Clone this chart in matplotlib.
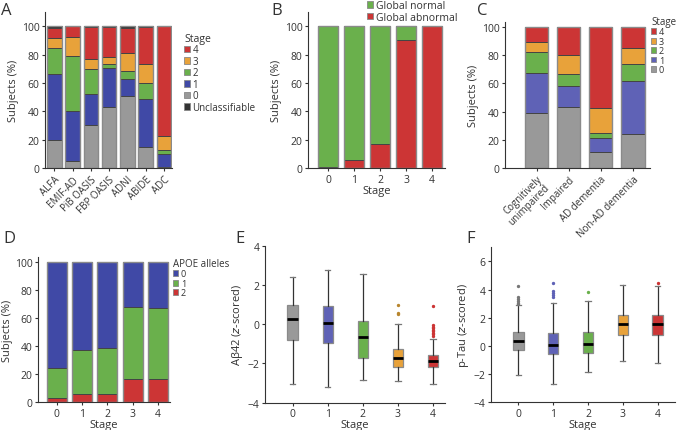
import numpy as np
import matplotlib
matplotlib.use("Agg")
import matplotlib.pyplot as plt
from matplotlib.patches import Patch

plt.rcParams["font.family"] = ["Open Sans", "DejaVu Sans"]
plt.rcParams["text.color"] = "#333333"
plt.rcParams["axes.labelcolor"] = "#333333"
plt.rcParams["xtick.color"] = "#333333"
plt.rcParams["ytick.color"] = "#333333"

# --- data -------------------------------------------------------------------
cohorts = ["ALFA", "EMIF-AD", "PiB OASIS", "FBP OASIS", "ADNI", "ABIDE", "ADC"]
a_stage0 = [19.4, 4.7, 30.0, 43.0, 50.5, 15.0, 1.0]
a_stage1 = [46.6, 35.5, 22.2, 27.5, 12.0, 33.5, 9.0]
a_stage2 = [18.4, 38.5, 17.3, 2.5, 6.0, 11.5, 3.0]
a_stage3 = [7.0, 14.0, 7.5, 5.5, 12.5, 13.5, 9.5]
a_stage4 = [7.0, 7.3, 22.2, 20.9, 17.8, 26.0, 77.5]
a_unclass = [1.6, 0.0, 0.8, 0.6, 1.2, 0.5, 0.0]

stages = ["0", "1", "2", "3", "4"]
b_abnormal = [1.0, 5.5, 17.0, 90.0, 100.0]
b_normal = [99.0, 94.5, 83.0, 10.0, 0.0]

groups = ["Cognitively\nunimpaired", "Impaired", "AD dementia", "Non-AD dementia"]
c_stage0 = [39.0, 43.3, 11.3, 24.1]
c_stage1 = [28.4, 14.9, 10.0, 37.4]
c_stage2 = [14.6, 8.5, 3.7, 12.3]
c_stage3 = [7.4, 13.7, 17.5, 11.3]
c_stage4 = [10.6, 19.6, 57.5, 14.9]

d_apoe2 = [2.6, 5.5, 6.0, 16.7, 16.2]
d_apoe1 = [21.7, 31.4, 32.8, 51.4, 51.2]
d_apoe0 = [75.7, 63.1, 61.2, 31.9, 32.6]

# box stats per stage: (whislo, q1, med, q3, whishi, fliers)
e_abeta = [(-3.03, -0.83, 0.27, 0.97, 2.38, []),
           (-3.20, -0.98, 0.05, 0.92, 2.75, []),
           (-2.83, -1.72, -0.67, 0.18, 2.55, []),
           (-2.88, -2.20, -1.73, -1.25, 0.00, [0.96, 0.58, 0.50]),
           (-3.05, -2.20, -1.87, -1.58, -0.73,
            [0.92, -0.05, -0.12, -0.2, -0.28, -0.36, -0.44, -0.52, -0.6])]
f_ptau = [(-2.04, -0.28, 0.33, 1.00, 2.87, [4.24, 3.46, 3.32, 3.2, 3.08, 2.98]),
          (-2.70, -0.57, 0.10, 0.90, 3.06, [4.5, 3.9, 3.75, 3.6, 3.45]),
          (-1.85, -0.47, 0.17, 1.00, 3.18, [3.82]),
          (-1.09, 0.76, 1.56, 2.23, 4.36, []),
          (-1.23, 0.80, 1.56, 2.23, 4.22, [4.5])]

RED, ORANGE, GREEN = "#cc3535", "#e8a23a", "#6ab04c"
BLUE, BLUE_L, GRAY, DARK = "#4049a6", "#5f62b6", "#999999", "#333333"
STAGE_COLORS = [GRAY, BLUE, GREEN, ORANGE, RED]
BOX_COLORS = [GRAY, BLUE_L, GREEN, ORANGE, RED]
FLIER_COLORS = ["#777777", BLUE_L, GREEN, "#b8862e", RED]

W, H = 677, 431
fig = plt.figure(figsize=(W / 100, H / 100), dpi=100)


def px_axes(l, t, r, b):
    ax = fig.add_axes([l / W, 1 - b / H, (r - l) / W, (b - t) / H])
    for s in ("top", "right"):
        ax.spines[s].set_visible(False)
    for s in ("left", "bottom"):
        ax.spines[s].set_color(DARK)
        ax.spines[s].set_linewidth(0.8)
    ax.tick_params(length=2.5, width=0.8, labelsize=7.5, pad=1.5)
    return ax


def stacked(ax, x, series, colors, width):
    bottom = np.zeros(len(x))
    for vals, col in zip(series, colors):
        vals = np.asarray(vals, dtype=float)
        ax.bar(x, vals, width, bottom=bottom, color=col, edgecolor="#444444",
               linewidth=0.7)
        bottom += vals
    # light outline around each full bar
    ax.bar(x, bottom, width, color="none", edgecolor="#8a8a8a", linewidth=1.0)


def legend(ax, labels, colors, x, y, title=None, fs=7):
    handles = [Patch(facecolor=c, edgecolor="#888888", linewidth=0.6) for c in colors]
    lg = ax.legend(handles, labels, title=title, loc="upper left",
                   bbox_to_anchor=(x / W, 1 - y / H), bbox_transform=fig.transFigure,
                   frameon=False, fontsize=fs, title_fontsize=fs + 0.5,
                   handlelength=0.6, handleheight=0.6, handletextpad=0.25,
                   labelspacing=0.05, borderpad=0, borderaxespad=0,
                   alignment="left")
    return lg


def boxes(ax, stats):
    bx = []
    for (lo, q1, med, q3, hi, fl) in stats:
        bx.append(dict(whislo=lo, q1=q1, med=med, q3=q3, whishi=hi, fliers=fl))
    res = ax.bxp(bx, positions=range(len(bx)), widths=0.3, patch_artist=True,
                 showfliers=True,
                 boxprops=dict(edgecolor="#8a8a8a", linewidth=0.9),
                 whiskerprops=dict(color=DARK, linewidth=0.9),
                 capprops=dict(color="#777777", linewidth=0.9),
                 medianprops=dict(color="black", linewidth=2.0),
                 capwidths=0.15)
    for patch, col in zip(res["boxes"], BOX_COLORS):
        patch.set_facecolor(col)
    for fl, col in zip(res["fliers"], FLIER_COLORS):
        fl.set(marker="o", markersize=1.4, markerfacecolor=col,
               markeredgecolor=col, linestyle="none")


def panel_letter(x, y, s):
    fig.text(x / W, 1 - y / H, s, fontsize=12, va="top", ha="left", color=DARK)


LABEL_FS = 8

# --- A: stage distribution per cohort ---------------------------------------
ax = px_axes(45, 13, 172, 169)
xa = np.arange(len(cohorts))
stacked(ax, xa, [a_stage0, a_stage1, a_stage2, a_stage3, a_stage4, a_unclass],
        STAGE_COLORS + [DARK], 0.8)
ax.set_xlim(-0.52, 6.45)
ax.set_ylim(0, 110)
ax.set_yticks([0, 20, 40, 60, 80, 100])
ax.set_xticks(xa)
ax.set_xticklabels(cohorts, rotation=45, ha="right", rotation_mode="anchor",
                   fontsize=7)
ax.set_ylabel("Subjects (%)", fontsize=LABEL_FS, labelpad=2)
legend(ax, ["4", "3", "2", "1", "0", "Unclassifiable"],
       [RED, ORANGE, GREEN, BLUE, GRAY, DARK], 184, 34, title="Stage", fs=7)
panel_letter(1, 3, "A")

# --- B: global amyloid status per stage --------------------------------------
ax = px_axes(308, 13, 445, 169)
xb = np.arange(len(stages))
stacked(ax, xb, [b_abnormal, b_normal], [RED, GREEN], 0.77)
ax.set_xlim(-0.78, 4.5)
ax.set_ylim(0, 110)
ax.set_yticks([0, 20, 40, 60, 80, 100])
ax.set_xticks(xb)
ax.set_xticklabels(stages)
ax.set_xlabel("Stage", fontsize=LABEL_FS, labelpad=0)
ax.set_ylabel("Subjects (%)", fontsize=LABEL_FS, labelpad=2)
legend(ax, ["Global normal", "Global abnormal"], [GREEN, RED], 367, 1, fs=7.5)
panel_letter(271, 3, "B")

# --- C: stage per clinical group -----------------------------------------------
ax = px_axes(505, 23, 650, 169)
xc = np.arange(len(groups))
stacked(ax, xc, [c_stage0, c_stage1, c_stage2, c_stage3, c_stage4],
        BOX_COLORS, 0.72)
ax.set_xlim(-0.98, 3.53)
ax.set_ylim(0, 103.5)
ax.set_yticks([0, 20, 40, 60, 80, 100])
ax.set_xticks(xc)
ax.set_xticklabels(groups, rotation=45, ha="right", rotation_mode="anchor",
                   linespacing=1.0, fontsize=7)
ax.set_ylabel("Subjects (%)", fontsize=LABEL_FS, labelpad=2)
legend(ax, ["4", "3", "2", "1", "0"], [RED, ORANGE, GREEN, BLUE_L, GRAY],
       651, 17, title="Stage", fs=6.5)
panel_letter(477, 3, "C")

# --- D: APOE alleles per stage -------------------------------------------------
ax = px_axes(38, 258, 170, 403)
stacked(ax, xb, [d_apoe2, d_apoe1, d_apoe0], [RED, GREEN, BLUE], 0.79)
ax.set_xlim(-0.75, 4.48)
ax.set_ylim(0, 103.5)
ax.set_yticks([0, 20, 40, 60, 80, 100])
ax.set_xticks(xb)
ax.set_xticklabels(stages)
ax.set_xlabel("Stage", fontsize=LABEL_FS, labelpad=0)
ax.set_ylabel("Subjects (%)", fontsize=LABEL_FS, labelpad=1)
legend(ax, ["0", "1", "2"], [BLUE, GREEN, RED], 173, 259,
       title="APOE alleles", fs=6.5)
panel_letter(3, 231, "D")

# --- E: CSF Abeta42 per stage ----------------------------------------------------
ax = px_axes(265, 246.7, 445, 403.7)
boxes(ax, e_abeta)
ax.set_xlim(-0.79, 4.34)
ax.set_ylim(-4, 4)
ax.set_yticks([-4, -2, 0, 2, 4])
ax.set_xticks(xb)
ax.set_xticklabels(stages)
ax.set_xlabel("Stage", fontsize=LABEL_FS, labelpad=0)
ax.set_ylabel(r"Aβ42 ($z$-scored)", fontsize=LABEL_FS, labelpad=2)
panel_letter(235, 231, "E")

# --- F: CSF p-tau per stage ------------------------------------------------------
ax = px_axes(491, 248.3, 675, 403.3)
boxes(ax, f_ptau)
ax.set_xlim(-0.79, 4.5)
ax.set_ylim(-4, 7)
ax.set_yticks([-4, -2, 0, 2, 4, 6])
ax.set_xticks(xb)
ax.set_xticklabels(stages)
ax.set_xlabel("Stage", fontsize=LABEL_FS, labelpad=0)
ax.set_ylabel(r"p-Tau ($z$-scored)", fontsize=LABEL_FS, labelpad=2)
panel_letter(466, 231, "F")

fig.savefig("out.png", dpi=100)
